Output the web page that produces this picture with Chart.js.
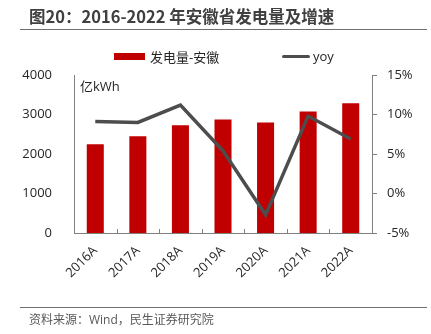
<!DOCTYPE html>
<html>
  <head>
    <meta charset="utf-8">
    <title>安徽省发电量及增速</title>
    <script src="https://cdn.jsdelivr.net/npm/chart.js@4.4.0/dist/chart.umd.min.js"></script>
    <style>
      body { margin: 0; background: #fff; font-family: "Open Sans", "Noto Sans CJK SC", sans-serif; }
      #wrap { position: relative; width: 431px; height: 334px; overflow: hidden; }
      #myChart { position: absolute; left: 0; top: 0; }
      .abs { position: absolute; white-space: nowrap; }
      #title { left: 29px; top: 4px; font-size: 16.5px; font-weight: bold; color: #404040; font-family: "Noto Sans CJK SC", sans-serif; }
      .rule { position: absolute; left: 20px; width: 407px; height: 0; border-top: 1.5px solid #6f6f6f; }
      #unit { left: 80px; top: 76px; font-size: 13px; color: #262626; }
      #source { left: 29px; top: 310px; font-size: 12px; color: #595959; }
      .leg { top: 47px; font-size: 13px; color: #262626; }
      .sw { position: absolute; }
    </style>
  </head>
  <body>
    <div id="wrap">
      <canvas id="myChart" width="431" height="334"></canvas>
      <div class="abs" id="title">图20：2016-2022 年安徽省发电量及增速</div>
      <div class="rule" style="top:29px"></div>
      <div class="sw" style="left:114px;top:53px;width:31px;height:7px;background:#c00000"></div>
      <div class="abs leg" style="left:150px">发电量-安徽</div>
      <div class="sw" style="left:282px;top:55px;width:28px;height:3px;background:#4d4d4d;border-radius:2px"></div>
      <div class="abs leg" style="left:313px">yoy</div>
      <div class="abs" id="unit">亿kWh</div>
      <div class="rule" style="top:307px"></div>
      <div class="abs" id="source">资料来源：Wind，民生证券研究院</div>
    </div>

    <script>
      const years = ['2016A', '2017A', '2018A', '2019A', '2020A', '2021A', '2022A']
      const power = [2249, 2451, 2728, 2871, 2796, 3073, 3282]
      const yoy = [9.1, 9.0, 11.2, 5.4, -2.7, 9.8, 6.9]

      const axisColor = '#808080'
      const labelColor = '#262626'
      const tickFont = { family: 'Open Sans', size: 13 }

      // small inward ticks between the categories
      const innerTicks = {
        id: 'innerTicks',
        afterDraw(chart) {
          const x = chart.scales.x
          const ctx = chart.ctx
          const bottom = chart.chartArea.bottom
          ctx.save()
          ctx.strokeStyle = axisColor
          ctx.lineWidth = 1
          for (let i = 1; i < years.length; i++) {
            const px = Math.round((x.getPixelForValue(i - 1) + x.getPixelForValue(i)) / 2) + 0.5
            ctx.beginPath()
            ctx.moveTo(px, bottom - 4)
            ctx.lineTo(px, bottom)
            ctx.stroke()
          }
          ctx.restore()
        }
      }

      new Chart('myChart', {
        type: 'bar',
        data: {
          labels: years,
          datasets: [
            {
              type: 'line',
              label: 'yoy',
              data: yoy,
              yAxisID: 'y1',
              borderColor: '#4d4d4d',
              borderWidth: 3.5,
              pointRadius: 0,
              tension: 0,
              order: 0
            },
            {
              label: '发电量-安徽',
              data: power,
              yAxisID: 'y',
              backgroundColor: '#c00000',
              barPercentage: 0.4,
              categoryPercentage: 1,
              order: 1
            }
          ]
        },
        options: {
          responsive: false,
          animation: false,
          layout: { padding: { top: 75, left: 0, right: 0, bottom: 0 } },
          plugins: { legend: { display: false }, tooltip: { enabled: false } },
          scales: {
            x: {
              grid: { display: false },
              border: { display: true, color: axisColor, width: 1 },
              ticks: {
                color: labelColor,
                font: tickFont,
                maxRotation: 45,
                minRotation: 45,
                padding: 2
              },
              afterFit(s) { s.height = 101 }
            },
            y: {
              position: 'left',
              min: 0,
              max: 4000,
              grid: { display: false },
              border: { display: true, color: axisColor, width: 1 },
              ticks: {
                stepSize: 1000,
                color: labelColor,
                font: tickFont,
                padding: 14,
                callback: v => String(v)
              },
              afterFit(s) { s.width = 74 }
            },
            y1: {
              position: 'right',
              min: -5,
              max: 15,
              grid: { display: true, drawOnChartArea: false, drawTicks: true, tickLength: 5, color: axisColor },
              border: { display: true, color: axisColor, width: 1 },
              ticks: {
                stepSize: 5,
                color: labelColor,
                font: tickFont,
                padding: 10,
                callback: v => v + '%'
              },
              afterFit(s) { s.width = 59 }
            }
          }
        },
        plugins: [innerTicks]
      })
    </script>
  </body>
</html>
